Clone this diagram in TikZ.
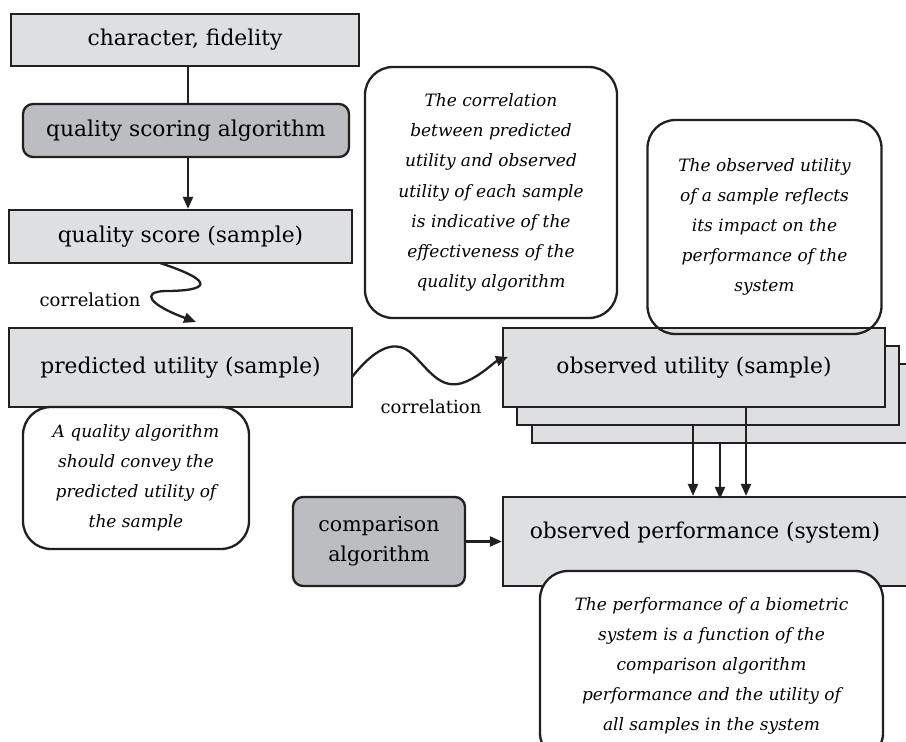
\documentclass[tikz,border=0pt]{standalone}
\usepackage{fontspec}
\setmainfont{DejaVu Serif}
\usetikzlibrary{arrows.meta}
\definecolor{boxgray}{HTML}{DEDFE1}
\definecolor{algogray}{HTML}{BCBDC0}
\definecolor{inkline}{HTML}{231F20}
\begin{document}
\begin{tikzpicture}[x=1pt,y=-1pt,
	line width=2.3pt, draw=inkline,
	databox/.style={draw=inkline, fill=boxgray, inner sep=0pt, font=\fontsize{21.8}{26}\selectfont},
	algobox/.style={databox, fill=algogray, rounded corners=10pt},
	notebox/.style={draw=inkline, rounded corners=28pt, inner sep=0pt, align=center, font=\fontsize{17}{30.2}\selectfont\itshape},
	wordlabel/.style={font=\fontsize{18}{20}\selectfont},
	flow/.style={-{Triangle[length=12pt,width=10pt]}}]
	\useasboundingbox (0,0) rectangle (906,742);
	\fill[white] (0,0) rectangle (906,742);

	% left column
	\node[databox, minimum width=348, minimum height=52] (charfid) at (185,40) {character, fidelity};
	\node[algobox, minimum width=326, minimum height=53] (qsalgo) at (186,130.5) {quality scoring algorithm};
	\node[databox, minimum width=343, minimum height=53] (qscore) at (180.5,236.5) {quality score (sample)};
	\node[databox, minimum width=343, minimum height=79] (predutil) at (180.5,367.5) {predicted utility (sample)};
	\node[notebox, fill=white, minimum width=226, minimum height=142] (notepred) at (136,478)
		{A quality algorithm\\should convey the\\predicted utility of\\the sample};

	\draw (charfid.south -| 188,0) -- (qsalgo.north -| 188,0);
	\draw[flow] (qsalgo.south -| 188,0) -- (qscore.north -| 188,0);

	% first correlation
	\coordinate (wavea) at (160,263);
	\coordinate (waveb) at (196,322);
	\draw[flow] (wavea) .. controls (218,282) and (208,291) .. (165,291)
		.. controls (140,292) and (150,305) .. (waveb);
	\node[wordlabel] (corra) at (90,300) {correlation};

	% middle note
	\node[notebox, minimum width=252, minimum height=251] (notecorr) at (491,192.5)
		{The correlation\\between predicted\\utility and observed\\utility of each sample\\is indicative of the\\effectiveness of the\\quality algorithm};

	% stacked observed utility boxes
	\node[databox, minimum width=382, minimum height=79] (obsutilc) at (723,403.5) {};
	\node[databox, minimum width=382, minimum height=79] (obsutilb) at (708,385.5) {};
	\node[databox, minimum width=382, minimum height=79] (obsutil) at (694,367.5) {observed utility (sample)};

	\node[notebox, minimum width=234, minimum height=214] (noteobs) at (764.5,227)
		{The observed utility\\of a sample reflects\\its impact on the\\performance of the\\system};

	% second correlation
	\coordinate (wavec) at (352,377);
	\coordinate (waved) at (508,357);
	\draw[flow] (wavec) .. controls (372,352) and (392,338) .. (410,352)
		.. controls (428,368) and (440,392) .. (465,382) .. controls (482,375) and (494,362) .. (waved);
	\node[wordlabel] (corrb) at (431,407) {correlation};

	% performance
	\node[databox, minimum width=405, minimum height=89] (obsperf) at (705.5,541.5) {};
	\node[databox, draw=none, fill=none] (perftext) at (705,533) {observed performance (system)};
	\node[algobox, minimum width=172, minimum height=89, align=center,
		font=\fontsize{20.5}{30}\selectfont] (cmpalgo) at (379,541.5) {comparison\\algorithm};
	\draw[flow] (cmpalgo.east) -- (obsperf.west);

	\draw[flow] (obsutil.south -| 746,0) -- (obsperf.north -| 746,0);
	\draw[flow] (obsutilb.south -| 693,0) -- (obsperf.north -| 693,0);
	\draw[flow] (obsutilc.south -| 720,0) -- ([yshift=-3pt]obsperf.north -| 720,0);

	\node[notebox, fill=white, minimum width=343, minimum height=190] (noteperf) at (711.5,666)
		{The performance of a biometric\\system is a function of the\\comparison algorithm\\performance and the utility of\\all samples in the system};
\end{tikzpicture}
\end{document}
